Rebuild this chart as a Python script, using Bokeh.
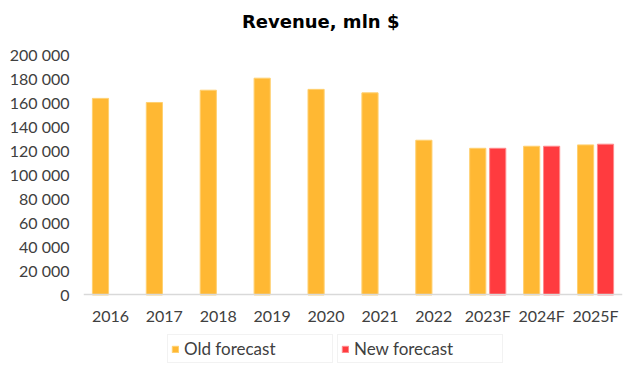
from bokeh.plotting import figure
from bokeh.models import (ColumnDataSource, FactorRange, Legend, LegendItem,
                          FixedTicker, Label)
from bokeh.transform import dodge
from bokeh.embed import file_html
from bokeh.resources import INLINE

years = ["2016", "2017", "2018", "2019", "2020", "2021", "2022", "2023F", "2024F", "2025F"]
old_forecast = [163500, 160100, 170300, 180300, 171000, 168100, 128700, 122000, 123700, 124800]
new_years = ["2023F", "2024F", "2025F"]
new_forecast = [122000, 123700, 125400]
y_ticks = [0, 20000, 40000, 60000, 80000, 100000, 120000, 140000, 160000, 180000, 200000]
y_tick_labels = ["0", "20 000", "40 000", "60 000", "80 000", "100 000", "120 000",
                 "140 000", "160 000", "180 000", "200 000"]
title_text = "Revenue, mln $"

FONT = "Lato"
ORANGE = "#FFB833"
RED = "#FF3B3F"

src_old = ColumnDataSource(dict(x=years, y=old_forecast))
src_new = ColumnDataSource(dict(x=new_years, y=new_forecast))

# frame covers the whole figure: title, axis labels and legends sit inside it
p = figure(width=624, height=368, x_range=FactorRange(*years), y_range=(-57800, 244900),
           output_backend="svg", toolbar_location=None,
           min_border_left=83, min_border_right=2, min_border_top=0, min_border_bottom=4)
p.outline_line_color = None
p.xgrid.grid_line_color = None
p.ygrid.grid_line_color = None

p.add_layout(Label(x=4.4, y=227400, text=title_text, text_align="center",
                   text_baseline="middle", text_font="DejaVu Sans", text_font_size="18px",
                   text_font_style="bold", text_color="#000000"))

r_old = p.vbar(x=dodge("x", -0.185, range=p.x_range), top="y", width=0.3, bottom=0,
               source=src_old, fill_color=ORANGE, line_color="#FFD070", line_width=1)
r_new = p.vbar(x=dodge("x", 0.185, range=p.x_range), top="y", width=0.3, bottom=0,
               source=src_new, fill_color=RED, line_color="#FF8A8C", line_width=1)

p.yaxis.ticker = FixedTicker(ticks=y_ticks)
p.yaxis.major_label_overrides = {t: l for t, l in zip(y_ticks, y_tick_labels)}
p.yaxis.axis_line_color = None
p.yaxis.major_tick_line_color = None
p.yaxis.major_tick_out = 0
p.yaxis.minor_tick_line_color = None
p.yaxis.major_label_standoff = 14
p.yaxis.major_label_text_font = FONT
p.yaxis.major_label_text_font_size = "16px"
p.yaxis.major_label_text_color = "#404040"

p.xaxis.fixed_location = 0
p.xaxis.axis_line_color = "#D9D9D9"
p.xaxis.axis_line_width = 1.5
p.xaxis.major_tick_line_color = None
p.xaxis.major_tick_out = 0
p.xaxis.minor_tick_line_color = None
p.xaxis.major_label_standoff = 11
p.xaxis.major_label_text_font = FONT
p.xaxis.major_label_text_font_size = "16px"
p.xaxis.major_label_text_color = "#404040"


def make_legend(label, renderer, x, y):
    return Legend(items=[LegendItem(label=label, renderers=[renderer])],
                  location=(x, y), orientation="horizontal",
                  border_line_color="#E6E6E6", border_line_width=1,
                  background_fill_alpha=0, padding=3, margin=0, spacing=0,
                  glyph_width=8, glyph_height=8, label_standoff=5,
                  label_text_font=FONT, label_text_font_size="17px",
                  label_text_color="#404040", label_width=145, label_height=18)


p.add_layout(make_legend("Old forecast", r_old, 84, 1))
p.add_layout(make_legend("New forecast", r_new, 254, 1))

open("out.html", "w").write(file_html(p, INLINE))
